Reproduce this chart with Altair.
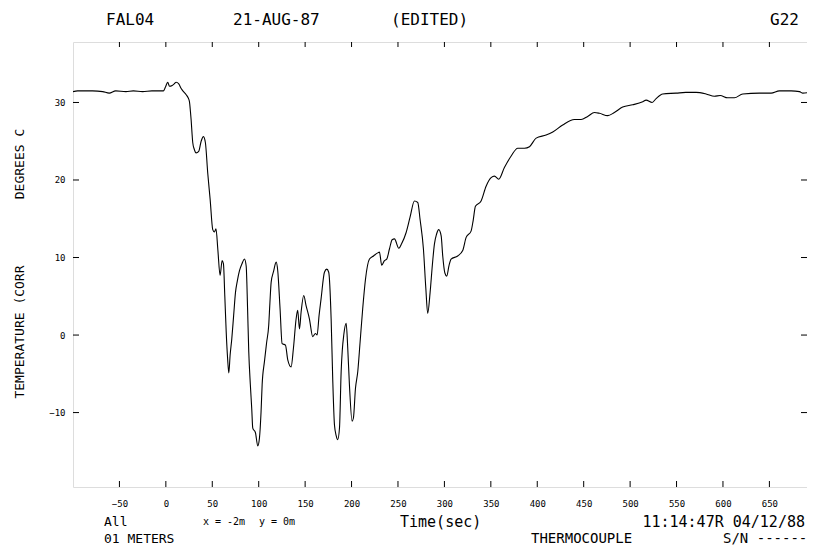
import altair as alt
import pandas as pd

# ---- data ----
time_s = [-100, -95, -89, -79, -68, -61, -54, -43, -35, -25, -15, -7, -2.6, -0.4, 2, 3.9, 6.8, 9, 11.1, 13.9,
          16.5, 19, 21.9, 24, 25.4, 26.5, 27.2, 28.2, 29, 30.5, 32.6, 35.4, 38, 40.5, 42.6, 45.1, 47.7, 50.5,
          52.3, 54, 56, 58.4, 60.6, 62, 63.5, 65, 66.5, 67.8, 69.2, 71, 73, 75, 77, 79.3, 82, 84.6, 86.5, 88,
          89.3, 91, 92.5, 93.6, 96.5, 99, 100.8, 102.5, 103.7, 106.2, 108.5, 110.8, 112, 113.4, 116, 118.8,
          120.5, 123, 125.2, 128.8, 131.3, 134.9, 137.4, 140.3, 142, 143.9, 145.7, 148.5, 151, 154.6, 158.2,
          161.1, 162.9, 165, 167.2, 170.8, 173.3, 175.4, 178, 179.7, 181.6, 183.5, 185.1, 187, 188.8, 190,
          191.6, 194.2, 195.9, 197.7, 200.6, 202, 204.2, 206.7, 209.2, 212, 215, 219.3, 223.6, 228.2, 230,
          232.5, 235.4, 237.9, 240.8, 243.7, 246.2, 250.9, 254, 258.7, 263, 267.7, 271.3, 273.8, 277.4, 280,
          282, 284.6, 287, 289.2, 291.5, 293.9, 296.5, 298.2, 300.5, 302.5, 305, 307.2, 314.3, 319.7, 323.4,
          328.7, 331, 333.4, 339.5, 344.9, 350.3, 353.9, 358.5, 364.6, 371.9, 379, 386.2, 391.6, 398.8, 409.5,
          416.7, 427.4, 440, 447.2, 454.3, 461.6, 467, 475.9, 483, 492, 502.8, 513.6, 517.2, 523.7, 528, 535.1,
          549.5, 560, 571, 581.8, 590.8, 597, 605, 612.3, 621.3, 639.2, 651.8, 660.8, 673.4, 682.4, 686, 696.8]
temperature = [31.4, 31.5, 31.5, 31.5, 31.4, 31.2, 31.5, 31.4, 31.5, 31.4, 31.5, 31.5, 31.5, 32.0, 32.6, 32.1,
               32.2, 32.4, 32.6, 32.4, 31.8, 31.4, 31.0, 30.6, 30.1, 28.8, 27.8, 26.0, 24.8, 24.0, 23.5, 23.7,
               25.0, 25.6, 24.8, 20.9, 17.5, 13.6, 13.3, 13.7, 11.0, 7.7, 9.6, 9.2, 5.0, 0.4, -3.0, -4.9, -2.6,
               -0.5, 2.5, 5.5, 7.0, 8.3, 9.2, 9.8, 8.9, 3.5, -2.2, -6.4, -9.5, -12.0, -12.6, -14.3, -13.3, -10.0,
               -6.4, -3.4, -1.0, 1.3, 4.0, 6.8, 8.2, 9.4, 8.3, 3.4, -1.1, -1.3, -3.2, -4.1, -1.7, 2.1, 3.2, 0.8,
               3.0, 5.1, 3.8, 2.1, -0.2, 0.2, 0.0, 2.5, 4.7, 8.1, 8.5, 8.1, 2.1, -5.6, -11.6, -13.0, -13.5, -12.0,
               -4.7, -2.0, 0.0, 1.5, -1.7, -6.4, -11.1, -10.7, -6.9, -4.7, -0.9, 3.4, 7.2, 9.8, 10.2, 10.6, 10.7,
               9.0, 9.6, 9.8, 11.1, 12.3, 12.4, 11.2, 11.8, 13.2, 15.2, 17.3, 17.1, 14.9, 11.1, 6.0, 2.8, 5.5,
               9.0, 11.7, 13.0, 13.6, 12.8, 10.2, 8.0, 7.6, 9.0, 9.8, 10.2, 10.9, 12.6, 13.4, 14.8, 16.6, 17.3,
               19.2, 20.3, 20.5, 20.1, 21.6, 23.1, 24.1, 24.1, 24.3, 25.4, 25.8, 26.2, 27.1, 27.8, 27.8, 28.2,
               28.7, 28.6, 28.3, 28.7, 29.4, 29.7, 30.1, 30.3, 30.0, 30.5, 31.1, 31.2, 31.3, 31.3, 31.1, 30.8,
               30.9, 30.6, 30.6, 31.1, 31.2, 31.2, 31.5, 31.5, 31.4, 31.2, 31.4]

x_ticks = [-50, 0, 50, 100, 150, 200, 250, 300, 350, 400, 450, 500, 550, 600, 650]
y_ticks = [-10, 0, 10, 20, 30]

title_left = ["FAL04", "21-AUG-87", "(EDITED)"]
title_right = "G22"
y_title_parts = ["TEMPERATURE (CORR", "DEGREES C"]
foot_texts = ["All", "01 METERS", "x = -2m", "y = 0m", "Time(sec)",
              "11:14:47R 04/12/88", "THERMOCOUPLE", "S/N ------"]

# ---- layout ----
W, H = 734, 445
XDOM = [-100, 690.5]
YDOM = [-19.6, 37.8]
FONT = "DejaVu Sans Mono, Liberation Mono, monospace"

df = pd.DataFrame({"t": time_s, "temp": temperature})
xs = alt.Scale(domain=XDOM, nice=False, zero=False)
ys = alt.Scale(domain=YDOM, nice=False, zero=False)

line = alt.Chart(df).mark_line(color="black", strokeWidth=1.1, interpolate="monotone", clip=True).encode(
    x=alt.X("t:Q", scale=xs,
            axis=alt.Axis(values=x_ticks, ticks=False, domain=False, grid=False, title=None,
                          labelFont=FONT, labelFontSize=9, labelPadding=12, labelColor="black",
                          labelFlush=False)),
    y=alt.Y("temp:Q", scale=ys,
            axis=alt.Axis(values=y_ticks, ticks=False, domain=False, grid=False, title=None,
                          labelFont=FONT, labelFontSize=9, labelPadding=8, labelColor="black")),
)

xt = pd.DataFrame({"v": x_ticks})
yt = pd.DataFrame({"v": y_ticks})
bottom_ticks = alt.Chart(xt).mark_rule(color="black", strokeWidth=1).encode(
    x=alt.X("v:Q", scale=xs), y=alt.value(H), y2=alt.value(H - 6))
top_ticks = alt.Chart(xt).mark_rule(color="black", strokeWidth=1).encode(
    x=alt.X("v:Q", scale=xs), y=alt.value(0), y2=alt.value(5))
left_ticks = alt.Chart(yt).mark_rule(color="black", strokeWidth=1).encode(
    y=alt.Y("v:Q", scale=ys), x=alt.value(0), x2=alt.value(6))
right_ticks = alt.Chart(yt).mark_rule(color="black", strokeWidth=1).encode(
    y=alt.Y("v:Q", scale=ys), x=alt.value(W), x2=alt.value(W - 6))


def label(text, x, y, size, align="left", angle=0):
    d = pd.DataFrame({"s": [text]})
    return alt.Chart(d).mark_text(font=FONT, fontSize=size, color="black", align=align,
                                  baseline="middle", angle=angle).encode(
        text="s:N", x=alt.value(x), y=alt.value(y))


texts = [
    label(title_left[0], 33, -22, 16),
    label(title_left[1], 160, -22, 16),
    label(title_left[2], 318, -22, 16),
    label(title_right, 726, -22, 16, align="right"),
    label(y_title_parts[0], -53, 290, 13, align="center", angle=270),
    label(y_title_parts[1], -53, 122, 13, align="center", angle=270),
    label(foot_texts[0], 31, 480, 13),
    label(foot_texts[1], 31, 497, 13),
    label(foot_texts[2], 130, 480, 10),
    label(foot_texts[3], 186, 480, 10),
    label(foot_texts[4], 327, 480, 15),
    label(foot_texts[5], 732, 480, 15, align="right"),
    label(foot_texts[6], 458, 497, 14),
    label(foot_texts[7], 650, 497, 14),
]

chart = alt.layer(line, bottom_ticks, top_ticks, left_ticks, right_ticks, *texts).properties(
    width=W, height=H,
    padding={"left": 65, "top": 34, "right": 0, "bottom": 62},
    autosize=alt.AutoSizeParams(type="none"),
).configure_view(stroke="black", strokeWidth=1.2).configure(background="white")

chart.save("out.html", embed_options={"renderer": "svg", "actions": False})
